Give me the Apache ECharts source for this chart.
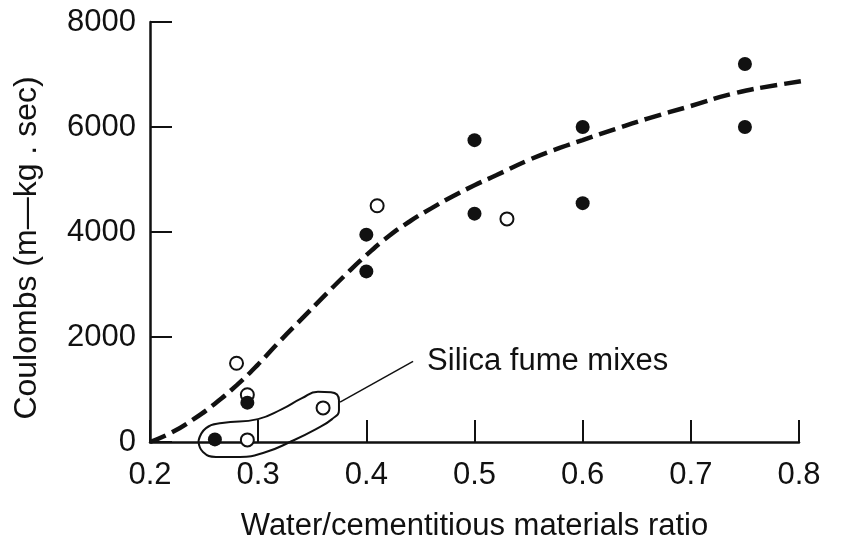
<!DOCTYPE html>
<html>
<head>
<meta charset="utf-8">
<script src="https://cdn.jsdelivr.net/npm/echarts@6/dist/echarts.min.js"></script>
<style>
html,body{margin:0;padding:0;background:#fff;}
#chart{width:841px;height:548px;}
</style>
</head>
<body>
<div id="chart"></div>
<script>
// ---- data ----
var filledX = [0.26, 0.29, 0.40, 0.40, 0.50, 0.50, 0.60, 0.60, 0.75, 0.75];
var filledY = [50, 750, 3950, 3250, 5750, 4350, 6000, 4550, 7200, 6000];
var openX = [0.28, 0.29, 0.29, 0.36, 0.41, 0.53];
var openY = [1500, 900, 40, 650, 4500, 4250];
var curveX = [0.20, 0.22, 0.24, 0.26, 0.28, 0.30, 0.32, 0.34, 0.36, 0.38, 0.40, 0.42, 0.44, 0.46, 0.48, 0.50, 0.52, 0.55, 0.58, 0.60, 0.63, 0.66, 0.70, 0.74, 0.78, 0.84];
var curveY = [0, 180, 430, 730, 1080, 1480, 1920, 2340, 2760, 3170, 3560, 3910, 4200, 4450, 4680, 4890, 5080, 5370, 5610, 5750, 5960, 6160, 6400, 6640, 6800, 6990];
var xTicks = [0.2, 0.3, 0.4, 0.5, 0.6, 0.7, 0.8];
var yTicks = [0, 2000, 4000, 6000, 8000];
// annotation (silica fume mixes outline, in data units)
var loopX = [0.2448, 0.2518, 0.2666, 0.2998, 0.322, 0.3405, 0.3553, 0.3673, 0.3747, 0.3747, 0.3683, 0.3535, 0.3294, 0.3072, 0.2832, 0.261, 0.249, 0.2448];
var loopY = [19, 265, 360, 436, 626, 834, 957, 948, 796, 607, 436, 246, 0, -190, -284, -284, -190, 19];
var leaderX = [0.3757, 0.4432];
var leaderY = [758, 1536];
var annotationText = 'Silica fume mixes';

function zip(a, b) { return a.map(function (v, i) { return [v, b[i]]; }); }

var FONT = '"Liberation Sans", Arial, Helvetica, sans-serif';
var INK = '#111';

var chart = echarts.init(document.getElementById('chart'), null, {renderer: 'canvas'});
var leaderData = zip(leaderX, leaderY);
leaderData[1] = {
  value: leaderData[1],
  label: {show: true, position: 'right', distance: 14, formatter: annotationText,
          color: INK, fontFamily: FONT, fontSize: 31}
};
chart.setOption({
  backgroundColor: '#fff',
  animation: false,
  grid: {left: 150, right: 42, top: 22, bottom: 106, containLabel: false},
  xAxis: {
    type: 'value', min: 0.2, max: 0.8, interval: 0.1,
    name: 'Water/cementitious materials ratio', nameLocation: 'middle', nameGap: 69,
    nameTextStyle: {color: INK, fontFamily: FONT, fontSize: 31},
    axisLine: {show: true, onZero: false, lineStyle: {color: INK, width: 2.5}},
    axisTick: {show: true, inside: true, length: 22, lineStyle: {color: INK, width: 2}},
    axisLabel: {color: INK, fontFamily: FONT, fontSize: 31, margin: 18,
                showMinLabel: true, showMaxLabel: true,
                formatter: function (v) { return xTicks.indexOf(Math.round(v * 10) / 10) >= 0 ? v.toFixed(1) : ''; }},
    splitLine: {show: false}
  },
  yAxis: {
    type: 'value', min: 0, max: 8000, interval: 2000,
    name: 'Coulombs (m\u2014kg . sec)', nameLocation: 'middle', nameGap: 107, nameRotate: 90,
    nameTextStyle: {color: INK, fontFamily: FONT, fontSize: 32, padding: [0, 32, 0, 0]},
    axisLine: {show: true, onZero: false, lineStyle: {color: INK, width: 2.5}},
    axisTick: {show: true, inside: true, length: 22, lineStyle: {color: INK, width: 2}},
    axisLabel: {color: INK, fontFamily: FONT, fontSize: 31, margin: 14,
                showMinLabel: true, showMaxLabel: true,
                formatter: function (v) { return yTicks.indexOf(v) >= 0 ? String(v) : ''; }},
    splitLine: {show: false}
  },
  series: [
    {
      type: 'line', data: zip(curveX, curveY), smooth: true, showSymbol: false, symbol: 'none',
      clip: false, silent: true, z: 2,
      lineStyle: {color: INK, width: 4.5, type: [17, 7], opacity: 1}
    },
    {
      type: 'line', data: zip(loopX, loopY), smooth: 0.5, showSymbol: false, symbol: 'none',
      clip: false, silent: true, z: 1,
      lineStyle: {color: INK, width: 2, opacity: 1}
    },
    {
      type: 'line', data: leaderData, showSymbol: true, symbol: 'circle', symbolSize: 0.1,
      clip: false, silent: true, z: 1,
      itemStyle: {color: INK},
      lineStyle: {color: INK, width: 1.5, opacity: 1}
    },
    {
      type: 'scatter', data: zip(openX, openY), symbol: 'circle', symbolSize: 13, z: 3,
      itemStyle: {color: '#fff', borderColor: INK, borderWidth: 2, opacity: 1}
    },
    {
      type: 'scatter', data: zip(filledX, filledY), symbol: 'circle', symbolSize: 14, z: 4,
      itemStyle: {color: INK, opacity: 1}
    }
  ]
});
</script>
</body>
</html>
